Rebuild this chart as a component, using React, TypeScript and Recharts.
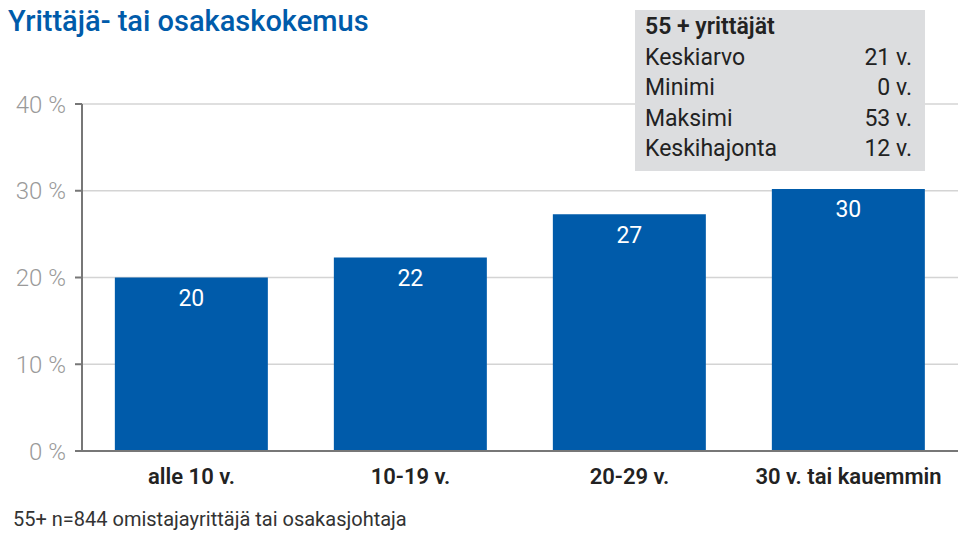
import React from 'react';
import { BarChart, Bar, XAxis, YAxis, CartesianGrid, LabelList } from 'recharts';

const categories = ['alle 10 v.', '10-19 v.', '20-29 v.', '30 v. tai kauemmin'];
const shares = [20.0, 22.3, 27.3, 30.2];
const yTicks = [0, 10, 20, 30, 40];
const statLabels = ['Keskiarvo', 'Minimi', 'Maksimi', 'Keskihajonta'];
const statValues = ['21 v.', '0 v.', '53 v.', '12 v.'];

const BLUE = '#005baa';
const FONT = 'Roboto, "Noto Sans", sans-serif';

const App: React.FC = () => {
  const data = categories.map((name, i) => ({ name, value: shares[i] }));

  return (
    <div style={{ position: 'absolute', left: 0, top: 0, width: 958, height: 534, fontFamily: FONT, background: '#fff' }}>
      <div style={{ position: 'absolute', left: 8, top: 4, fontSize: 29, color: BLUE, fontWeight: 500 }}>
        Yrittäjä- tai osakaskokemus
      </div>

      <BarChart
        width={958}
        height={534}
        data={data}
        margin={{ top: 104, right: 0, left: 0, bottom: 0 }}
        barCategoryGap="15%"
      >
        <CartesianGrid vertical={false} stroke="#d4d4d4" strokeWidth={1.5} />
        <XAxis
          dataKey="name"
          height={83}
          tickLine={false}
          axisLine={{ stroke: '#777', strokeWidth: 2 }}
          tickMargin={11}
          tick={{ fontSize: 22, fill: '#222', fontWeight: 600, fontFamily: FONT }}
          interval={0}
        />
        <YAxis
          width={82}
          domain={[0, 40]}
          ticks={yTicks}
          tickFormatter={(v) => `${v} %`}
          axisLine={{ stroke: '#777', strokeWidth: 2 }}
          tickLine={{ stroke: '#777', strokeWidth: 2 }}
          tickSize={7}
          tickMargin={9}
          tick={{ fontSize: 24, fill: '#9a9a9a', fontWeight: 300, fontFamily: FONT }}
        />
        <Bar dataKey="value" fill={BLUE} isAnimationActive={false}>
          <LabelList
            dataKey="value"
            position="insideTop"
            offset={12}
            formatter={(v: any) => Math.round(Number(v))}
            style={{ fill: '#fff', fontSize: 23, fontFamily: FONT }}
          />
        </Bar>
      </BarChart>

      <div
        style={{
          position: 'absolute',
          left: 635,
          top: 10,
          width: 290,
          height: 161,
          background: '#dcdddf',
          boxSizing: 'border-box',
          padding: '2px 13px 0 10px',
          fontSize: 23,
          color: '#222',
          lineHeight: '30.5px',
        }}
      >
        <div style={{ fontWeight: 600 }}>55 + yrittäjät</div>
        {statLabels.map((s, i) => (
          <div key={s} style={{ display: 'flex', justifyContent: 'space-between' }}>
            <span>{s}</span>
            <span>{statValues[i]}</span>
          </div>
        ))}
      </div>

      <div style={{ position: 'absolute', left: 13, top: 507, fontSize: 20, color: '#333' }}>
        55+ n=844 omistajayrittäjä tai osakasjohtaja
      </div>
    </div>
  );
};

export default App;
